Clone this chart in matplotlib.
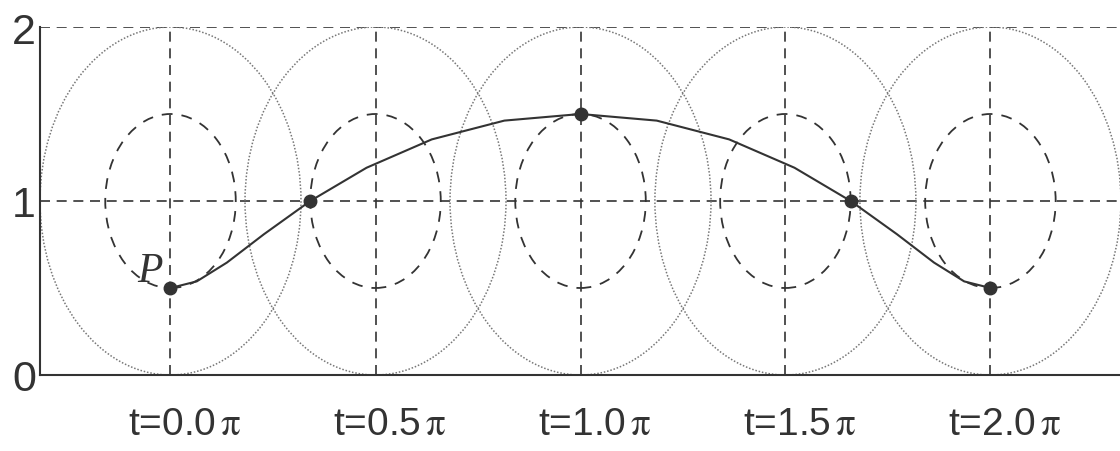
import matplotlib
matplotlib.use("Agg")
import matplotlib.pyplot as plt
import matplotlib.transforms as mtransforms
from matplotlib.patches import Circle

# wheel centres (x) at the five instants, centre height, radii
centres_x = [0.0, 1.571, 3.142, 4.712, 6.283]
centre_y = 1.0
outer_r = 1.0
inner_r = 0.5
tick_labels = [r"t=0.0$\,\mathrm{\pi}$", r"t=0.5$\,\mathrm{\pi}$", r"t=1.0$\,\mathrm{\pi}$",
               r"t=1.5$\,\mathrm{\pi}$", r"t=2.0$\,\mathrm{\pi}$"]

# path of P
path_x = [0.0, 0.201, 0.432, 0.716, 1.071, 1.502, 2.002, 2.558, 3.142,
          3.726, 4.281, 4.782, 5.212, 5.567, 5.851, 6.082, 6.283]
path_y = [0.5, 0.538, 0.646, 0.809, 1.0, 1.191, 1.354, 1.462, 1.5,
          1.462, 1.354, 1.191, 1.0, 0.809, 0.646, 0.538, 0.5]

# marked positions of P
dot_x = [0.0, 1.071, 3.142, 5.212, 6.283]
dot_y = [0.5, 1.0, 1.5, 1.0, 0.5]

plt.rcParams["mathtext.fontset"] = "stix"

fig = plt.figure(figsize=(11.2, 4.52), dpi=100)
ax = fig.add_axes([40 / 1120, 76 / 452, 1080 / 1120, 348 / 452])

for cx in centres_x:
    ax.add_patch(Circle((cx, centre_y), outer_r, fill=False, ec="#777777",
                        lw=1.1, ls=(0, (1, 1.2))))
    ax.add_patch(Circle((cx, centre_y), inner_r, fill=False, ec="#333333",
                        lw=1.3, ls=(0, (6, 5))))

ax.plot(path_x, path_y, color="#333333", lw=1.5, zorder=4)
ax.plot(dot_x, dot_y, "o", color="#333333", ms=9, zorder=5)

ax.text(-0.16, 0.6, "P", fontsize=30, family="Liberation Serif",
        style="italic", ha="center", va="center", color="#333333")

ax.set_xlim(-1, 7.276)
ax.set_ylim(0, 2)
ax.set_xticks(centres_x)
ax.set_xticklabels(tick_labels, family="Liberation Sans", fontsize=28, color="#333333")
ax.set_yticks([0, 1, 2])
ax.set_yticklabels(["0", "1", "2"], family="Liberation Sans", fontsize=31, color="#333333")
ax.tick_params(axis="x", length=0, pad=22)
ax.tick_params(axis="y", length=0, pad=3)
ax.grid(True, color="#333333", lw=1.2, ls=(0, (6, 4)))
ax.set_axisbelow(True)

# labels in the drawing sit a little right of the grid lines
shift = mtransforms.ScaledTranslation(0.14, 0, fig.dpi_scale_trans)
for lab in ax.get_xticklabels():
    lab.set_transform(lab.get_transform() + shift)

for side in ["top", "right"]:
    ax.spines[side].set_visible(False)
for side in ["left", "bottom"]:
    ax.spines[side].set_color("#333333")
    ax.spines[side].set_linewidth(1.5)

fig.savefig("out.png", dpi=100)
